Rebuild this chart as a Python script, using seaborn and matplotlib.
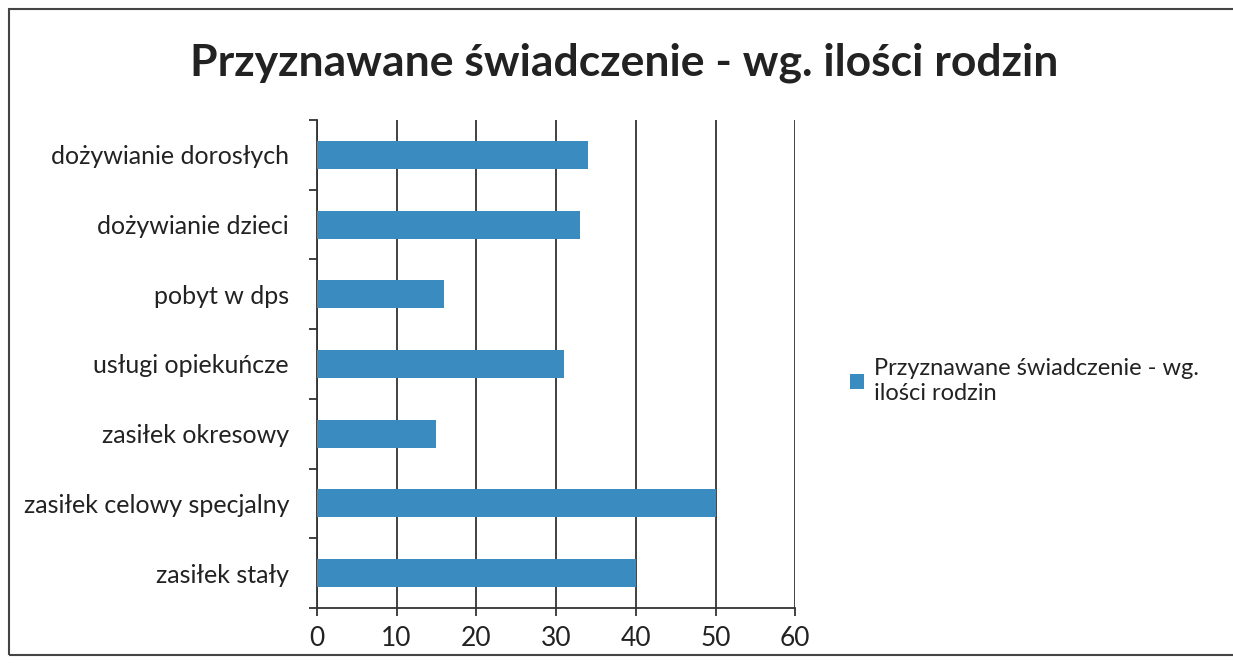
import matplotlib.pyplot as plt
import seaborn as sns
import pandas as pd
from matplotlib.patches import Rectangle

categories = ['dożywianie dorosłych', 'dożywianie dzieci', 'pobyt w dps',
              'usługi opiekuńcze', 'zasiłek okresowy', 'zasiłek celowy specjalny',
              'zasiłek stały']
values = [34, 33, 16, 31, 15, 50, 40]
series_name = 'Przyznawane świadczenie - wg.\nilości rodzin'
title = 'Przyznawane świadczenie - wg. ilości rodzin'

sns.set_style("white")
plt.rcParams['font.family'] = ['Lato', 'DejaVu Sans']

df = pd.DataFrame({'kategoria': categories, 'liczba': values})

fig = plt.figure(figsize=(12.33, 6.63), dpi=100)
ax = fig.add_axes([0.257, 0.083, 0.388, 0.736])

sns.barplot(data=df, x='liczba', y='kategoria', orient='h', color='#3a8cc0',
            saturation=1, width=0.4, label=series_name, ax=ax, zorder=3,
            linewidth=0)

ax.set_xlim(0, 60)
ax.set_ylim(6.5, -0.5)
ax.set_xticks(range(0, 61, 10))
ax.xaxis.grid(True, color='#333333', linewidth=1.3, zorder=0)
ax.tick_params(axis='x', labelsize=19, length=6, width=1.3, color='#333333',
               direction='out', bottom=True, pad=7, labelcolor='#222222')
ax.tick_params(axis='y', which='major', length=0, labelsize=18, pad=20,
               labelcolor='#222222')
ax.set_yticks([i + 0.5 for i in range(-1, 7)], minor=True)
ax.tick_params(axis='y', which='minor', length=6, width=1.3, color='#333333',
               left=True)
ax.set_xlabel('')
ax.set_ylabel('')
for s in ['top', 'right']:
    ax.spines[s].set_visible(False)
for s in ['left', 'bottom']:
    ax.spines[s].set_color('#333333')
    ax.spines[s].set_linewidth(1.3)

fig.text(0.506, 0.905, title, ha='center', va='center', fontsize=32,
         fontweight='bold', color='#222222')

ax.legend(loc='center left', bbox_to_anchor=(1.07, 0.465), frameon=False,
          fontsize=17, handlelength=0.6, handleheight=0.6, handletextpad=0.4,
          labelcolor='#222222', labelspacing=0.3)

fig.patches.append(Rectangle((0.007, 0.012), 1.2, 0.975, transform=fig.transFigure,
                             fill=False, edgecolor='#444444', linewidth=1.5))

plt.savefig('out.png', dpi=100)
